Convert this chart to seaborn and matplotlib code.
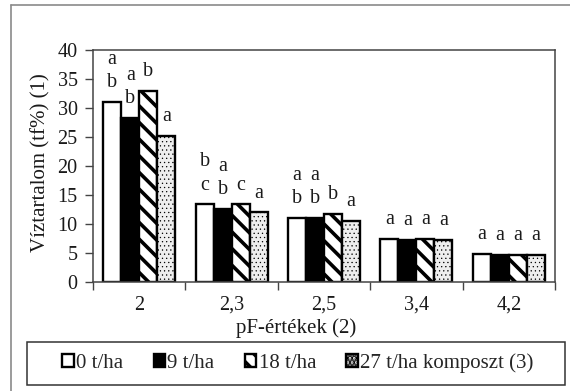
import numpy as np
import pandas as pd
import matplotlib
matplotlib.use("Agg")
import matplotlib.pyplot as plt
import seaborn as sns
from matplotlib.patches import Patch, Rectangle
from matplotlib.lines import Line2D

# ---- data ----
categories = ["2", "2,3", "2,5", "3,4", "4,2"]
treatments = ["0 t/ha", "9 t/ha", "18 t/ha", "27 t/ha komposzt (3)"]
v0 = [31.0, 13.4, 11.0, 7.5, 4.8]
v9 = [28.3, 12.6, 11.1, 7.3, 4.7]
v18 = [32.9, 13.4, 11.8, 7.5, 4.7]
v27 = [25.2, 12.0, 10.5, 7.3, 4.7]
l0 = ["a\nb", "b\nc", "a\nb", "a", "a"]
l9 = ["a\nb", "a\nb", "a\nb", "a", "a"]
l18 = ["b", "c", "b", "a", "a"]
l27 = ["a", "a", "a", "a", "a"]
yticks = [0, 5, 10, 15, 20, 25, 30, 35, 40]
ylabel = "Víztartalom (tf%) (1)"
xlabel = "pF-értékek (2)"

values = [v0, v9, v18, v27]
letters = [l0, l9, l18, l27]

df = pd.DataFrame({
    "pF": categories * len(treatments),
    "treat": np.repeat(treatments, len(categories)),
    "val": v0 + v9 + v18 + v27,
})

sns.set_style("ticks")
plt.rcParams["font.family"] = ["Liberation Serif", "DejaVu Serif"]
plt.rcParams["hatch.linewidth"] = 2.6
FS = 14.5
TXT = "#1a1a1a"

faces = ["white", "black", "white", "#eeeeee"]
hatches = [None, None, "\\\\", "...."]
hatch_lw = [None, None, 2.6, 0.4]

fig = plt.figure(figsize=(5.7, 3.91), dpi=100)
ax = fig.add_axes([93 / 570, 1 - 282 / 391, (555 - 93) / 570, (282 - 50) / 391])

sns.barplot(data=df, x="pF", y="val", hue="treat", order=categories,
            hue_order=treatments, palette=faces, width=0.78, gap=0,
            edgecolor="black", linewidth=1.7, saturation=1,
            errorbar=None, legend=False, ax=ax)

for i, cont in enumerate(ax.containers):
    for bar, lab in zip(cont, letters[i]):
        bar.set_facecolor(faces[i])
        bar.set_edgecolor("black")
        if hatches[i]:
            bar.set_hatch(hatches[i])
            if hasattr(bar, "set_hatch_linewidth"):
                bar.set_hatch_linewidth(hatch_lw[i])
        ax.annotate(lab, (bar.get_x() + bar.get_width() / 2, bar.get_height()),
                    xytext=(0, 7), textcoords="offset points", ha="center",
                    va="bottom", fontsize=FS, linespacing=1.3, color=TXT)

ax.set_xlim(-0.5, len(categories) - 0.5)
ax.set_ylim(0, 40)
ax.set_yticks(yticks)
ax.set_yticklabels([str(t) for t in yticks], fontsize=FS, color=TXT)
ax.set_xticks(np.arange(-0.5, len(categories), 1.0))
ax.set_xticklabels([])
ax.set_xticks(np.arange(len(categories)), minor=True)
ax.set_xticklabels(categories, minor=True, fontsize=FS, color=TXT)
ax.tick_params(axis="x", which="major", length=6, width=1, direction="out", color="#444444")
ax.tick_params(axis="x", which="minor", length=0, pad=10)
ax.tick_params(axis="y", length=6, width=1, direction="out", pad=5, color="#444444")
ax.set_xlabel("")
ax.set_ylabel("")
for s in ["top", "right", "left", "bottom"]:
    ax.spines[s].set_visible(True)
    ax.spines[s].set_color("#444444")
    ax.spines[s].set_linewidth(1.1)

fig.text(41 / 570, 1 - 163 / 391, ylabel, rotation=90, ha="center", va="center",
         fontsize=FS + 0.5, color=TXT)
fig.text(296 / 570, 1 - 328 / 391, xlabel, ha="center", va="center",
         fontsize=FS + 0.5, color=TXT)

# legend
handles = []
for i in range(len(treatments)):
    p = Patch(facecolor=faces[i], edgecolor="black", linewidth=1.7,
              hatch=hatches[i])
    handles.append(p)
fig.legend(handles, treatments, loc="center", bbox_to_anchor=(298 / 570, 1 - 363 / 391),
           ncol=4, frameon=False, fontsize=FS + 0.5, handlelength=0.55, handleheight=0.55,
           handletextpad=0.12, columnspacing=1.45)
fig.add_artist(Rectangle((27 / 570, 1 - 385 / 391), (565 - 27) / 570, (385 - 342) / 391,
                         transform=fig.transFigure, fill=False, edgecolor="#333333", lw=1.1))

# outer frame (top and left)
fig.add_artist(Line2D([11 / 570, 11 / 570], [0, 1 - 5 / 391], transform=fig.transFigure,
                      color="#8a8a8a", lw=1.2))
fig.add_artist(Line2D([11 / 570, 1], [1 - 5 / 391, 1 - 5 / 391], transform=fig.transFigure,
                      color="#8a8a8a", lw=1.2))

fig.savefig("out.png", dpi=100, facecolor="white")
